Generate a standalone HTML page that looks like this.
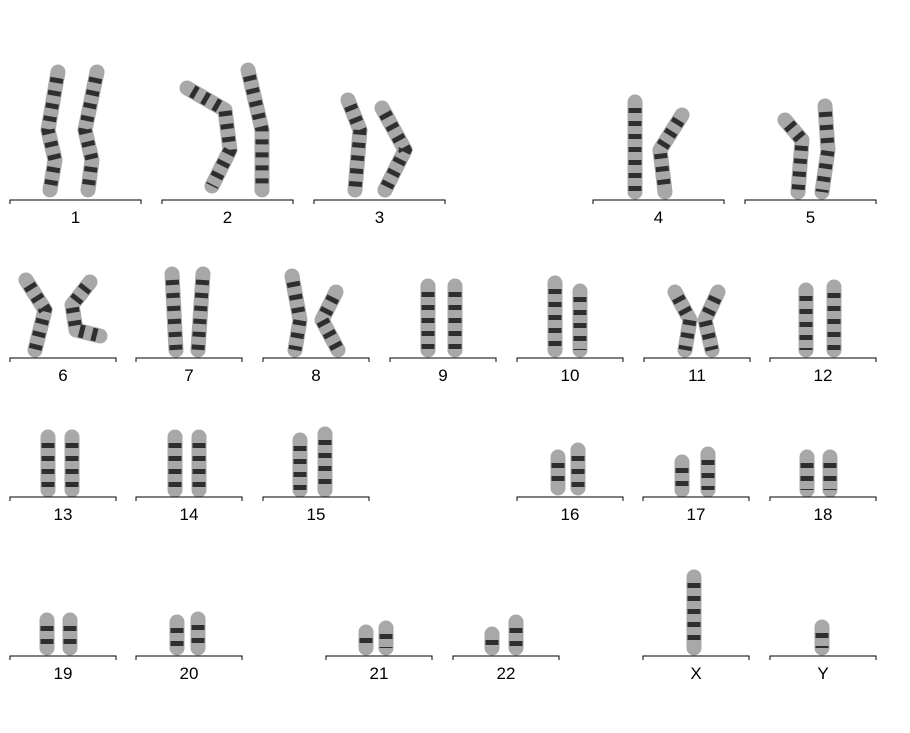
<!DOCTYPE html>
<html><head><meta charset="utf-8"><style>
html,body{margin:0;padding:0;background:#fff;}
svg{display:block;}
text{font-family:"Liberation Sans",sans-serif;font-size:17px;fill:#000;text-anchor:middle;}
</style></head>
<body>
<svg id="chart" width="910" height="733" viewBox="0 0 910 733" xmlns="http://www.w3.org/2000/svg"></svg>
<script>
const labels = ["1","2","3","4","5","6","7","8","9","10","11","12","13","14","15","16","17","18","19","20","21","22","X","Y"];
const baseY = [200,200,200,200,200,358,358,358,358,358,358,358,497,497,497,497,497,497,656,656,656,656,656,656];
const baseX0 = [10,162,314,593,745,10,136,263,390,517,644,770,10,136,263,517,643,770,10,136,326,453,643,770];
const baseW = [131,131,131,131,131,106,106,106,106,106,106,106,106,106,106,106,106,106,106,106,106,106,106,106];
const chromatids = [
 [[[58,72],[48,130],[55,160],[50,190]],[[97,72],[85,130],[92,160],[88,190]]],
 [[[187,88],[225,110],[230,150],[212,186]],[[248,70],[262,130],[262,190]]],
 [[[348,100],[360,130],[355,190]],[[382,108],[405,150],[385,190]]],
 [[[635,102],[635,192]],[[682,115],[660,150],[665,192]]],
 [[[785,120],[802,140],[798,192]],[[825,106],[828,150],[822,192]]],
 [[[26,280],[45,310],[35,350]],[[90,282],[72,305],[76,330],[100,336]]],
 [[[172,274],[176,350]],[[203,274],[198,350]]],
 [[[292,276],[300,320],[295,350]],[[336,292],[322,320],[338,350]]],
 [[[428,286],[428,350]],[[455,286],[455,350]]],
 [[[555,283],[555,350]],[[580,291],[580,350]]],
 [[[675,292],[690,320],[685,350]],[[718,292],[705,320],[712,350]]],
 [[[806,290],[806,350]],[[834,287],[834,350]]],
 [[[48,437],[48,490]],[[72,437],[72,490]]],
 [[[175,437],[175,490]],[[199,437],[199,490]]],
 [[[300,440],[300,490]],[[325,434],[325,490]]],
 [[[558,457],[558,488]],[[578,450],[578,488]]],
 [[[682,462],[682,490]],[[708,454],[708,490]]],
 [[[807,457],[807,490]],[[830,457],[830,490]]],
 [[[47,620],[47,648]],[[70,620],[70,648]]],
 [[[177,622],[177,648]],[[198,619],[198,648]]],
 [[[366,632],[366,648]],[[386,628],[386,648]]],
 [[[492,634],[492,648]],[[516,622],[516,648]]],
 [[[694,577],[694,648]]],
 [[[822,627],[822,648]]]
];
const svg=document.getElementById('chart');
const NS='http://www.w3.org/2000/svg';
function mk(t,a){const e=document.createElementNS(NS,t);for(const k in a)e.setAttribute(k,a[k]);svg.appendChild(e);return e;}
for(let i=0;i<labels.length;i++){
  const g=document.createElementNS(NS,'g');
  
  
  svg.appendChild(g);
  chromatids[i].forEach(pts=>{
    const d=pts.map(p=>p.join(',')).join(' ');
    const a=document.createElementNS(NS,'polyline');
    a.setAttribute('points',d);a.setAttribute('fill','none');a.setAttribute('stroke','#a8a8a8');
    a.setAttribute('stroke-width','15');a.setAttribute('stroke-linecap','round');a.setAttribute('stroke-linejoin','round');
    
    
    g.appendChild(a);
    const b=document.createElementNS(NS,'polyline');
    b.setAttribute('points',d);b.setAttribute('fill','none');b.setAttribute('stroke','#2e2e2e');
    b.setAttribute('stroke-width','13');b.setAttribute('stroke-dasharray','5 8');b.setAttribute('stroke-dashoffset','-6');
    
    
    g.appendChild(b);
  });
  const x0=baseX0[i],x1=x0+baseW[i],y=baseY[i];
  const l=mk('path',{d:`M${x0},${y+4}V${y}H${x1}V${y+4}`,fill:'none',stroke:'#000','stroke-width':1});
  
  
  const t=mk('text',{x:(x0+x1)/2,y:y+23});
  t.textContent=labels[i];
  
  
}
</script>
</body></html>
